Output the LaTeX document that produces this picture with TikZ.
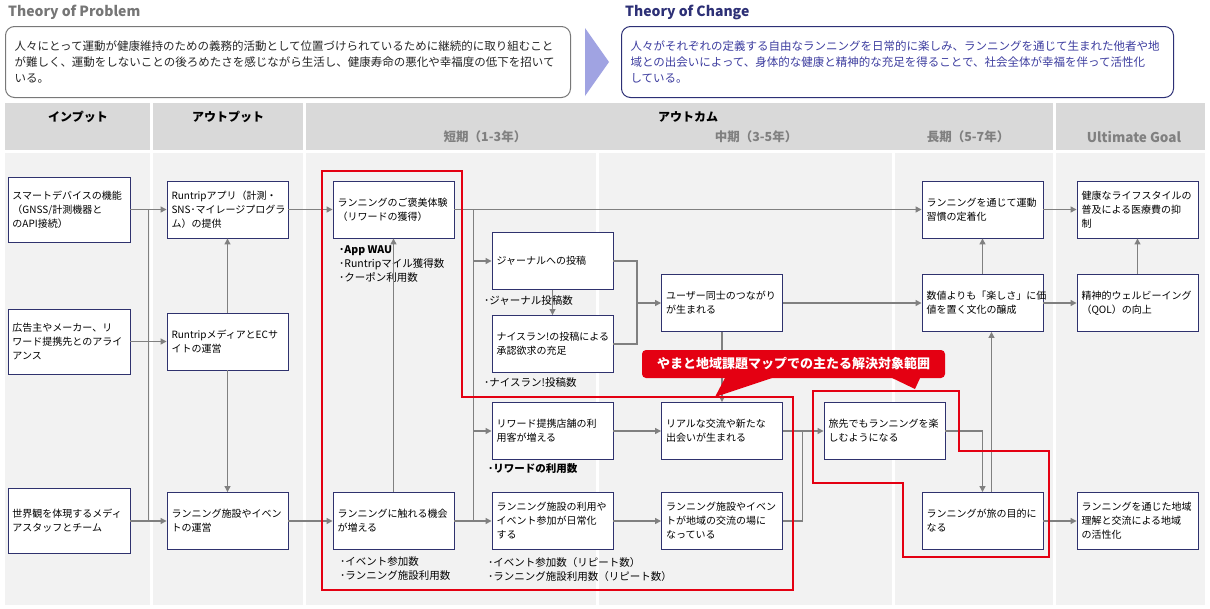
\documentclass[tikz,border=0pt]{standalone}
\usepackage{fontspec}
\setmainfont{Noto Sans CJK JP}
\usepackage{xcolor}
\usetikzlibrary{arrows.meta,calc}

\definecolor{boxblue}{RGB}{47,50,110}
\definecolor{flowgray}{RGB}{128,128,128}
\definecolor{colbg}{RGB}{242,242,242}
\definecolor{headbg}{RGB}{217,217,217}
\definecolor{scopered}{RGB}{228,0,18}
\definecolor{chevblue}{RGB}{160,163,226}
\definecolor{titlegray}{RGB}{118,118,118}
\definecolor{changeblue}{RGB}{45,48,118}
\definecolor{changetext}{RGB}{62,62,160}
\definecolor{probline}{RGB}{120,120,120}

\newcommand{\bxfont}{\fontsize{10}{14}\selectfont}
\newcommand{\mtfont}{\fontsize{10.5}{14}\selectfont}
\newcommand{\topfont}{\fontsize{11.5}{16}\selectfont}
\newcommand{\hdfont}{\fontsize{12}{14}\selectfont\bfseries}

\begin{document}
\begin{tikzpicture}[x=1pt,y=-1pt,
  box/.style={draw=boxblue,line width=0.9pt,fill=white,minimum width=121pt,minimum height=57pt,
    text width=112pt,inner xsep=4.5pt,align=left,font=\bxfont},
  inbox/.style={box,minimum width=122pt,minimum height=65pt,text width=113pt},
  metric/.style={anchor=north west,align=left,inner sep=0pt,font=\mtfont},
  flow/.style={draw=flowgray,line width=1.2pt,-{Triangle[length=6pt,width=6pt]}},
  link/.style={draw=flowgray,line width=1.2pt},
  areared/.style={draw=scopered,line width=2pt},
  hd/.style={inner sep=0pt,font=\hdfont},
  period/.style={inner sep=0pt,text=flowgray,font=\fontsize{12.5}{14}\selectfont\bfseries},
  topbox/.style={rounded corners=9pt,line width=1pt,fill=white,anchor=north west,
    minimum width=565pt,minimum height=71pt,text width=547pt,inner xsep=9pt,align=left,font=\topfont}]
  \useasboundingbox (0,0) rectangle (1210,608);
  \fill[white] (0,0) rectangle (1210,608);

  % theory of problem / change
  \node[inner sep=0pt,anchor=west,text=titlegray,font=\fontsize{14}{16}\selectfont\bfseries] (probtitle) at (8,12) {Theory of Problem};
  \node[inner sep=0pt,anchor=west,text=changeblue,font=\fontsize{14}{16}\selectfont\bfseries] (chgtitle) at (625,12) {Theory of Change};
  \node[topbox,draw=probline,text=black!85] (prob) at (5,26)
    {人々にとって運動が健康維持のための義務的活動として位置づけられているために継続的に取り組むこと\\
     が難しく、運動をしないことの後ろめたさを感じながら生活し、健康寿命の悪化や幸福度の低下を招いて\\
     いる。};
  \node[topbox,draw=changeblue,text=changetext,minimum width=552pt,text width=534pt] (chg) at (621,26)
    {人々がそれぞれの定義する自由なランニングを日常的に楽しみ、ランニングを通じて生まれた他者や地\\
     域との出会いによって、身体的な健康と精神的な充足を得ることで、社会全体が幸福を伴って活性化\\
     している。};
  \fill[chevblue] (585,28) -- (609,62) -- (585,96) -- cycle;

  % header row
  \fill[headbg] (5,103) rectangle (150,150);
  \fill[headbg] (153,103) rectangle (303,150);
  \fill[headbg] (306,103) rectangle (1053,150);
  \fill[headbg] (1056,103) rectangle (1205,150);
  \node[hd] (hin) at (78,117) {インプット};
  \node[hd] (hout) at (228,117) {アウトプット};
  \node[hd] (hcome) at (688,117) {アウトカム};
  \node[period] (pshort) at (485,137) {短期（1-3年）};
  \node[period] (pmid) at (756,137) {中期（3-5年）};
  \node[period] (plong) at (968,137) {長期（5-7年）};
  \node[period,font=\fontsize{13.5}{15}\selectfont\bfseries] (pgoal) at (1134,137) {Ultimate Goal};

  % body columns
  \fill[colbg] (5,153) rectangle (150,605);
  \fill[colbg] (153,153) rectangle (303,605);
  \fill[colbg] (306,153) rectangle (596,605);
  \fill[colbg] (599,153) rectangle (892,605);
  \fill[colbg] (895,153) rectangle (1053,605);
  \fill[colbg] (1056,153) rectangle (1205,605);

  % inputs and outputs
  \node[inbox] (I1) at (69,209.5) {スマートデバイスの機能\\（GNSS/計測機器と\\のAPI接続）};
  \node[inbox] (I2) at (69,341.5) {広告主やメーカー、リ\\ワード提携先とのアライ\\アンス};
  \node[inbox] (I3) at (69,521) {世界観を体現するメディ\\アスタッフとチーム};
  \node[box] (O1) at (227.5,209.5) {Runtripアプリ（計測・\\SNS･マイレージプログラ\\ム）の提供};
  \node[box] (O2) at (227.5,341.5) {RuntripメディアとECサ\\イトの運営};
  \node[box] (O3) at (227.5,521) {ランニング施設やイベン\\トの運営};

  % short term
  \node[box] (S1) at (393.5,209.5) {ランニングのご褒美体験\\（リワードの獲得）};
  \node[box] (S2) at (393.5,521) {ランニングに触れる機会\\が増える};
  \node[box] (S3) at (552.5,261) {ジャーナルへの投稿};
  \node[box] (S4) at (552.5,344) {ナイスラン!の投稿による\\承認欲求の充足};
  \node[box] (S6) at (552.5,431) {リワード提携店舗の利\\用客が増える};
  \node[box] (S5) at (552.5,521) {ランニング施設の利用や\\イベント参加が日常化\\する};
  \node[metric] (mS1) at (339,245) {\textbf{･App WAU}\\･Runtripマイル獲得数\\･クーポン利用数};
  \node[metric] (mS2) at (340,556) {･イベント参加数\\･ランニング施設利用数};
  \node[metric] (mS3) at (484,295) {･ジャーナル投稿数};
  \node[metric] (mS4) at (484,377) {･ナイスラン!投稿数};
  \node[metric] (mS6) at (488,463) {\textbf{･リワードの利用数}};
  \node[metric] (mS5) at (488,557) {･イベント参加数（リピート数）\\･ランニング施設利用数（リピート数）};

  % mid term
  \node[box] (M1) at (722,303) {ユーザー同士のつながり\\が生まれる};
  \node[box] (M2) at (722,431) {リアルな交流や新たな\\出会いが生まれる};
  \node[box] (M4) at (722,521) {ランニング施設やイベン\\トが地域の交流の場に\\なっている};
  \node[box] (M3) at (884.5,431) {旅先でもランニングを楽\\しむようになる};

  % long term and goals
  \node[box] (L1) at (982.5,209.5) {ランニングを通じて運動\\習慣の定着化};
  \node[box] (L2) at (982.5,303) {数値よりも「楽しさ」に価\\値を置く文化の醸成};
  \node[box] (L3) at (982.5,521) {ランニングが旅の目的に\\なる};
  \node[box] (U1) at (1137.5,209.5) {健康なライフスタイルの\\普及による医療費の抑\\制};
  \node[box] (U2) at (1137.5,303) {精神的ウェルビーイング\\（QOL）の向上};
  \node[box] (U3) at (1137.5,521) {ランニングを通じた地域\\理解と交流による地域\\の活性化};

  % connectors
  \draw[flow] (I1) -- (O1);
  \draw[flow] (I2) -- (O2);
  \draw[flow] (I3) -- (O3);
  \draw[link] ($(I1.east)!0.5!(O1.west)$) -- ($(I3.east)!0.5!(O3.west)$);
  \draw[flow] (O2) -- (O1);
  \draw[flow] (O2) -- (O3);
  \draw[flow] (O1) -- (S1);
  \draw[flow] (O3) -- (S2);
  \draw[flow] (S2) -- (S1);
  \draw[flow] (S1.east) -- (S1.east -| L1.west);
  \coordinate (sbus) at ($(S1.east)+(19,0)$);
  \draw[link] (sbus) -- (sbus |- S2.east);
  \draw[flow] (sbus |- S3.west) -- (S3.west);
  \draw[flow] (sbus |- S6.west) -- (S6.west);
  \draw[flow] (S2.east) -- (S5.west);
  \draw[flow] (S3) -- (S4);
  \coordinate (jn) at ($(M1.west)+(-24,0)$);
  \draw[link] (S3.east) -| (jn) |- (S4.east);
  \draw[flow] (jn) -- (M1.west);
  \draw[flow] (M1) -- (L2);
  \draw[flow] (M1) -- (M2);
  \draw[flow] (S6) -- (M2);
  \draw[flow] (S5) -- (M4);
  \coordinate (jm) at ($(M3.west)+(-21,0)$);
  \draw[link] (M4.east) -| (jm);
  \draw[flow] (M2) -- (M3);
  \draw[flow] (M3.east) -| (L3.north);
  \draw[flow] ([xshift=9pt]L3.north) -- ([xshift=9pt]L2.south);
  \draw[flow] (L2) -- (L1);
  \draw[flow] (L1) -- (U1);
  \draw[flow] (L2) -- (U2);
  \draw[flow] (L3) -- (U3);
  \draw[flow] (U2) -- (U1);

  % target areas
  \draw[areared] (322,171) -- (462,171) -- (462,397) -- (793,397) -- (793,590) -- (322,590) -- cycle;
  \draw[areared] (813,391) -- (959,391) -- (959,451) -- (1049,451) -- (1049,557) -- (903,557) -- (903,483) -- (813,483) -- cycle;
  \fill[scopered] (726,376) -- (715,397) -- (778,376) -- cycle;
  \fill[scopered] (888,376) -- (915,389) -- (921,376) -- cycle;
  \node[fill=scopered,rounded corners=4pt,minimum width=303pt,minimum height=28pt,text=white,
    font=\fontsize{13}{15}\selectfont\bfseries] (scopenote) at (793.5,364) {やまと地域課題マップでの主たる解決対象範囲};
\end{tikzpicture}
\end{document}
